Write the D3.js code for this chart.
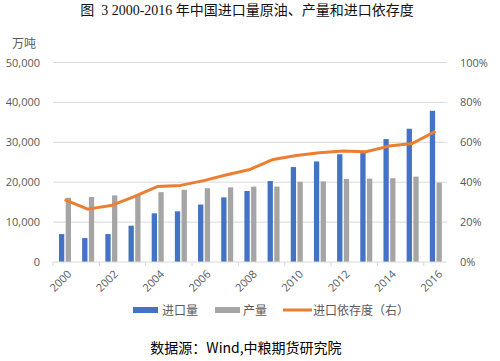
<!DOCTYPE html>
<html>
<head>
<meta charset="utf-8">
<script src="https://cdn.jsdelivr.net/npm/d3@7"></script>
<style>
  body { margin: 0; background: #fff; }
  svg { display: block; }
</style>
</head>
<body>
<script>
const W = 500
const H = 361

// données
const YEARS = d3.range(2000, 2017)
const IMPORTS = [7000, 6000, 7000, 9100, 12200, 12700, 14400, 16200, 17800, 20300, 23800, 25200, 27000, 27300, 30800, 33400, 37900]
const OUTPUT = [16100, 16300, 16700, 16800, 17500, 18100, 18500, 18700, 18900, 18900, 20100, 20200, 20800, 20900, 21000, 21400, 19900]
const DEPENDENCE = [31.3, 26.5, 28.3, 32.8, 37.8, 38.4, 40.8, 43.7, 46.4, 51.4, 53.4, 54.8, 55.6, 55.3, 58.1, 59.4, 65.5]
const LEFT_TICKS = [0, 10000, 20000, 30000, 40000, 50000]
const RIGHT_TICKS = [0, 20, 40, 60, 80, 100]
const LABEL_YEARS = [2000, 2002, 2004, 2006, 2008, 2010, 2012, 2014, 2016]

const BLUE = '#4472C4'
const GRAY = '#A5A5A5'
const ORANGE = '#ED7D31'
const TXT = '#595959'
const CJK = '"Noto Sans CJK SC", "Noto Sans", sans-serif'

const svg = d3.select('body').append('svg').attr('width', W).attr('height', H)

const X0 = 53, X1 = 447, Y0 = 62.5, Y1 = 262

const x = d3.scaleBand().domain(YEARS).range([X0, X1])
const y = d3.scaleLinear().domain([0, 50000]).range([Y1, Y0])
const y2 = d3.scaleLinear().domain([0, 100]).range([Y1, Y0])

// titre
svg.append('text')
  .attr('x', 247).attr('y', 15)
  .attr('text-anchor', 'middle')
  .attr('xml:space', 'preserve')
  .style('white-space', 'pre')
  .style('font-family', '"Liberation Serif", ' + CJK)
  .style('font-size', '14px')
  .attr('fill', '#111')
  .text('图  3 2000-2016 年中国进口量原油、产量和进口依存度')

svg.append('text')
  .attr('x', 12).attr('y', 48)
  .style('font-family', CJK).style('font-size', '12px')
  .attr('fill', TXT)
  .text('万吨')

// grille
svg.append('g').selectAll('line')
  .data(LEFT_TICKS.slice(1))
  .join('line')
  .attr('x1', X0).attr('x2', X1)
  .attr('y1', d => y(d)).attr('y2', d => y(d))
  .attr('stroke', '#D9D9D9').attr('stroke-width', 1)

// axe gauche
const yAxis = d3.axisLeft(y).tickValues(LEFT_TICKS).tickSize(0).tickPadding(13).tickFormat(d3.format(','))
svg.append('g').attr('transform', `translate(${X0},0)`).call(yAxis)
  .call(g => g.select('.domain').remove())
  .call(g => g.selectAll('text').attr('fill', TXT).style('font-family', '"Open Sans", sans-serif').style('font-size', '11px'))

// axe droit
const y2Axis = d3.axisRight(y2).tickValues(RIGHT_TICKS).tickSize(0).tickPadding(13).tickFormat(d => d + '%')
svg.append('g').attr('transform', `translate(${X1},0)`).call(y2Axis)
  .call(g => g.select('.domain').remove())
  .call(g => g.selectAll('text').attr('fill', TXT).style('font-family', '"Open Sans", sans-serif').style('font-size', '11px'))

// bâtons
const bw = 5.3
svg.append('g').selectAll('rect')
  .data(IMPORTS)
  .join('rect')
  .attr('x', (d, i) => x(YEARS[i]) + x.bandwidth() / 2 - 5.6)
  .attr('width', bw)
  .attr('y', d => y(d))
  .attr('height', d => Y1 - y(d))
  .attr('fill', BLUE)

svg.append('g').selectAll('rect')
  .data(OUTPUT)
  .join('rect')
  .attr('x', (d, i) => x(YEARS[i]) + x.bandwidth() / 2 + 1.1)
  .attr('width', bw)
  .attr('y', d => y(d))
  .attr('height', d => Y1 - y(d))
  .attr('fill', GRAY)

// axe du bas
svg.append('line')
  .attr('x1', X0).attr('x2', X1)
  .attr('y1', Y1).attr('y2', Y1)
  .attr('stroke', '#D9D9D9')
svg.append('g').selectAll('line')
  .data(d3.range(0, YEARS.length + 1, 2))
  .join('line')
  .attr('x1', d => X0 + d * x.step()).attr('x2', d => X0 + d * x.step())
  .attr('y1', Y1).attr('y2', Y1 + 4)
  .attr('stroke', '#D9D9D9')

svg.append('g').selectAll('text')
  .data(LABEL_YEARS)
  .join('text')
  .attr('transform', d => `translate(${x(d) + x.bandwidth() / 2 + 5},${Y1 + 10}) rotate(-45)`)
  .attr('text-anchor', 'end')
  .attr('dy', '0.35em')
  .attr('fill', TXT)
  .style('font-family', '"Open Sans", sans-serif')
  .style('font-size', '11px')
  .text(d => d)

// courbe
const line = d3.line()
  .x((d, i) => x(YEARS[i]) + x.bandwidth() / 2)
  .y(d => y2(d))
svg.append('path')
  .datum(DEPENDENCE)
  .attr('d', line)
  .attr('fill', 'none')
  .attr('stroke', ORANGE)
  .attr('stroke-width', 3)
  .attr('stroke-linejoin', 'round')

// légende
const legY = 310
const leg = svg.append('g')
leg.append('rect').attr('x', 133).attr('y', legY - 3).attr('width', 25).attr('height', 6).attr('fill', BLUE)
leg.append('text').attr('x', 162).attr('y', legY + 4.5).text('进口量')
leg.append('rect').attr('x', 215).attr('y', legY - 3).attr('width', 25).attr('height', 6).attr('fill', GRAY)
leg.append('text').attr('x', 243).attr('y', legY + 4.5).text('产量')
leg.append('line').attr('x1', 283).attr('x2', 312).attr('y1', legY).attr('y2', legY).attr('stroke', ORANGE).attr('stroke-width', 3)
leg.append('text').attr('x', 313).attr('y', legY + 4.5).text('进口依存度（右）')
leg.selectAll('text').attr('fill', TXT).style('font-family', CJK).style('font-size', '12px')

// source
svg.append('text')
  .attr('x', 246).attr('y', 353)
  .attr('text-anchor', 'middle')
  .style('font-family', CJK)
  .style('font-size', '14px')
  .attr('fill', '#000')
  .text('数据源：Wind,中粮期货研究院')
</script>
</body>
</html>
